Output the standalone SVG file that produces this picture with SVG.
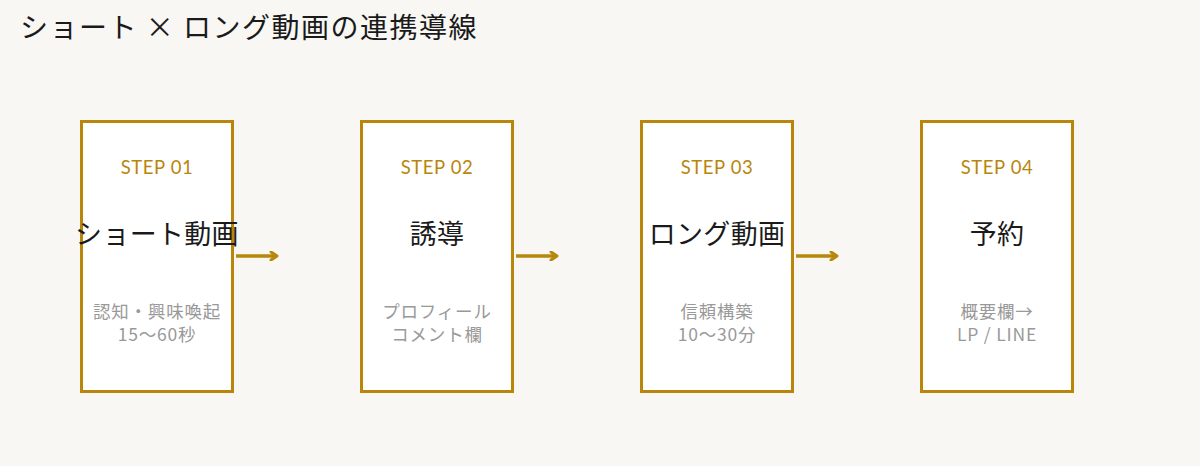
<svg xmlns="http://www.w3.org/2000/svg" width="1200" height="466" viewBox="0 0 1200 466">
<style>
.bg{fill:#F8F7F3}
.box{fill:#FFFFFF;stroke:#B8860B;stroke-width:3}
.title{font-family:"Noto Sans CJK JP","Noto Sans",sans-serif;font-size:28px;letter-spacing:1.5px;fill:#1a1a1a}
.step{font-family:Lato,"Noto Sans",sans-serif;font-size:18.5px;letter-spacing:0.6px;fill:#B8860B;text-anchor:middle}
.main{font-family:"Noto Sans CJK JP",sans-serif;font-size:27px;letter-spacing:0.3px;fill:#1a1a1a;text-anchor:middle}
.desc{font-family:"Noto Sans CJK JP",sans-serif;font-size:17.5px;letter-spacing:0.8px;fill:#999999;text-anchor:middle}
.conn{stroke:#B8860B;stroke-width:3.5;fill:none}
</style>
<defs>
<marker id="ah" markerWidth="10" markerHeight="10" refX="8" refY="5" orient="auto" markerUnits="userSpaceOnUse">
<path d="M2,1 L8,5 L2,9" fill="none" stroke="#B8860B" stroke-width="3" stroke-linecap="round" stroke-linejoin="round"/>
</marker>
</defs>
<rect class="bg" x="0" y="0" width="1200" height="466"/>
<text class="title" x="20" y="38">ショート × ロング動画の連携導線</text>
<g id="step1">
<rect class="box" x="81.5" y="121.5" width="151" height="270"/>
<text class="step" x="157" y="174">STEP 01</text>
<text class="main" x="157" y="244">ショート動画</text>
<text class="desc" x="157" y="318">認知・興味喚起</text>
<text class="desc" x="157" y="341">15〜60秒</text>
</g>
<g id="step2">
<rect class="box" x="361.5" y="121.5" width="151" height="270"/>
<text class="step" x="437" y="174">STEP 02</text>
<text class="main" x="437" y="244">誘導</text>
<text class="desc" x="437" y="318">プロフィール</text>
<text class="desc" x="437" y="341">コメント欄</text>
</g>
<g id="step3">
<rect class="box" x="641.5" y="121.5" width="151" height="270"/>
<text class="step" x="717" y="174">STEP 03</text>
<text class="main" x="717" y="244">ロング動画</text>
<text class="desc" x="717" y="318">信頼構築</text>
<text class="desc" x="717" y="341">10〜30分</text>
</g>
<g id="step4">
<rect class="box" x="921.5" y="121.5" width="151" height="270"/>
<text class="step" x="997" y="174">STEP 04</text>
<text class="main" x="997" y="244">予約</text>
<text class="desc" x="997" y="318">概要欄→</text>
<text class="desc" x="997" y="341">LP / LINE</text>
</g>
<g id="connectors">
<line class="conn" x1="236" y1="256" x2="277" y2="256" marker-end="url(#ah)"/>
<line class="conn" x1="516" y1="256" x2="557" y2="256" marker-end="url(#ah)"/>
<line class="conn" x1="796" y1="256" x2="837" y2="256" marker-end="url(#ah)"/>
</g>
</svg>
